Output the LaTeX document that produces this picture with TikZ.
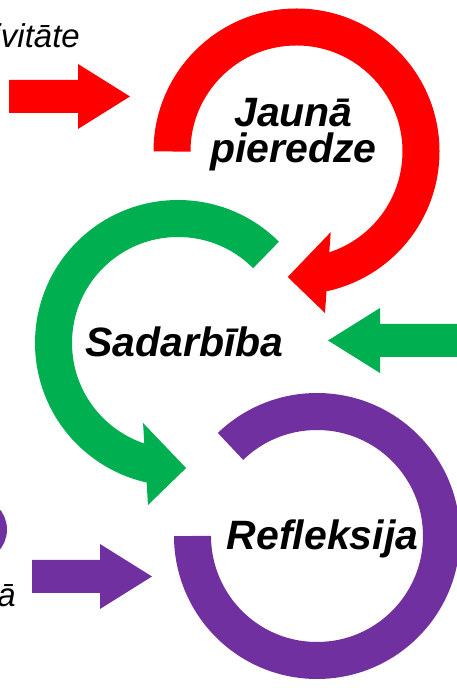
\documentclass[tikz,border=0pt]{standalone}
\usepackage{fontspec}
\setmainfont{Liberation Sans}
\usetikzlibrary{calc}

\definecolor{expred}{HTML}{FF0000}
\definecolor{coopgreen}{HTML}{00B050}
\definecolor{reflpurple}{HTML}{7030A0}

% block arrow: colour, tail, tip (horizontal)
\newcommand\blockarrow[3]{%
  \fill[#1] let \p1=(#2), \p2=(#3), \n1={sign(\x2-\x1)} in
    (\x1,\y1+16.5) -- (\x2-52*\n1,\y1+16.5) -- (\x2-52*\n1,\y1+32.5) -- (\x2,\y2)
    -- (\x2-52*\n1,\y1-32.5) -- (\x2-52*\n1,\y1-16.5) -- (\x1,\y1-16.5) -- cycle;}

\begin{document}
\begin{tikzpicture}[x=1pt, y=1pt,
    ring/.style = {line width=37pt},
    lbl/.style  = {font=\fontsize{41}{36}\selectfont\bfseries\itshape, inner sep=0pt},
    side/.style = {font=\fontsize{33}{36}\selectfont\itshape, inner sep=0pt}]
  \useasboundingbox (0,0) rectangle (457,688);

  \coordinate (cExp)  at (296.5,536.5);
  \coordinate (cCoop) at (178,345);
  \coordinate (cRefl) at (317,152);

  \draw[ring, expred] (cExp) ++(180:124.5) arc[start angle=180, end angle=-78, radius=124.5];
  \fill[expred] ([shift={(-67:87.6)}]cExp) -- ([shift={(-94:125.8)}]cExp) -- ([shift={(-80:164)}]cExp) -- cycle;

  \draw[ring, coopgreen] (cCoop) ++(45:124.5) arc[start angle=45, end angle=258, radius=124.5];
  \fill[coopgreen] ([shift={(-113.6:87.3)}]cCoop) -- ([shift={(-86.3:125.3)}]cCoop) -- ([shift={(-100.5:164.8)}]cCoop) -- cycle;

  \draw[ring, reflpurple] (cRefl) ++(134:124.5) arc[start angle=134, end angle=-180, radius=124.5];

  \draw[reflpurple, line width=7pt] (-25,158.5) circle (28.5);

  \node[lbl, align=center, anchor=base] (newExp) at (293.5,525) {Jaunā\\pieredze};
  \node[lbl, anchor=base] (coop) at (184.5,331) {Sadarbība};
  \node[lbl, anchor=base] (refl) at (322.5,138) {Refleksija};

  \node[side, anchor=base east] (act) at (80,640) {Aktivitāte};
  \node[side, anchor=base east] (prev) at (16,81) {ā};

  \coordinate (actTail)  at (9,591.5);
  \coordinate (actTip)   at (130,591.5);
  \coordinate (coopTail) at (470,347.5);
  \coordinate (coopTip)  at (328,347.5);
  \coordinate (prevTail) at (32,111.5);
  \coordinate (prevTip)  at (152,111.5);

  \blockarrow{expred}{actTail}{actTip}
  \blockarrow{coopgreen}{coopTail}{coopTip}
  \blockarrow{reflpurple}{prevTail}{prevTip}
\end{tikzpicture}
\end{document}
